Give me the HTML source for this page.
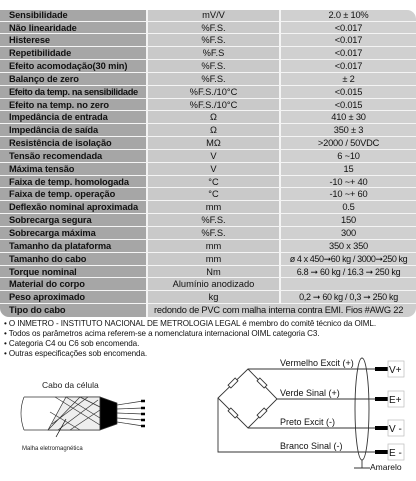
<!DOCTYPE html>
<html><head><meta charset="utf-8"><style>
body{margin:0;width:416px;height:481px;background:#fff;font-family:"Liberation Sans",Arial,sans-serif;overflow:hidden;position:relative}
.tbl{position:absolute;left:0;top:10px;width:416px;font-size:9.3px;color:#111}
.r{display:flex;height:12.85px;box-sizing:border-box;overflow:hidden}
.r>div{box-sizing:border-box;border-bottom:1px solid #f4f4f4;line-height:12px;white-space:nowrap;overflow:hidden;height:100%}
.a{width:148px;background:#a6a6a6;font-weight:bold;padding-left:9px;border-right:2px solid #f4f4f4;letter-spacing:-0.1px}
.b{width:133px;background:#c9c9c9;text-align:center;border-right:2px solid #f4f4f4}
.c{width:135px;background:#d0d0d0;text-align:center;letter-spacing:-0.2px}
.r.first{height:11.5px}
.r.first>div{line-height:11px}
.r.first .c{border-top-right-radius:9px}
.r.last>div{border-bottom:none}
.r.last .a{border-bottom-left-radius:9px}
.notes{position:absolute;left:4px;top:319px;font-size:8.1px;line-height:10px;color:#111;letter-spacing:-0.1px}
svg{position:absolute;left:0;top:0}
</style></head><body>
<div class="tbl">
<div class="r first"><div class="a">Sensibilidade</div><div class="b">mV/V</div><div class="c">2.0 ± 10%</div></div>
<div class="r"><div class="a">Não linearidade</div><div class="b">%F.S.</div><div class="c">&lt;0.017</div></div>
<div class="r"><div class="a">Histerese</div><div class="b">%F.S.</div><div class="c">&lt;0.017</div></div>
<div class="r"><div class="a">Repetibilidade</div><div class="b">%F.S</div><div class="c">&lt;0.017</div></div>
<div class="r"><div class="a">Efeito acomodação(30 min)</div><div class="b">%F.S.</div><div class="c">&lt;0.017</div></div>
<div class="r"><div class="a">Balanço de zero</div><div class="b">%F.S.</div><div class="c">± 2</div></div>
<div class="r"><div class="a" style="letter-spacing:-0.4px">Efeito da temp. na sensibilidade</div><div class="b">%F.S./10°C</div><div class="c">&lt;0.015</div></div>
<div class="r"><div class="a">Efeito na temp. no zero</div><div class="b">%F.S./10°C</div><div class="c">&lt;0.015</div></div>
<div class="r"><div class="a">Impedância de entrada</div><div class="b">Ω</div><div class="c">410 ± 30</div></div>
<div class="r"><div class="a">Impedância de saída</div><div class="b">Ω</div><div class="c">350 ± 3</div></div>
<div class="r"><div class="a">Resistência de isolação</div><div class="b">MΩ</div><div class="c">&gt;2000 / 50VDC</div></div>
<div class="r"><div class="a">Tensão recomendada</div><div class="b">V</div><div class="c">6 ~10</div></div>
<div class="r"><div class="a">Máxima tensão</div><div class="b">V</div><div class="c">15</div></div>
<div class="r"><div class="a">Faixa de temp. homologada</div><div class="b">°C</div><div class="c">-10 ~+ 40</div></div>
<div class="r"><div class="a">Faixa de temp. operação</div><div class="b">°C</div><div class="c">-10 ~+ 60</div></div>
<div class="r"><div class="a">Deflexão nominal aproximada</div><div class="b">mm</div><div class="c">0.5</div></div>
<div class="r"><div class="a">Sobrecarga segura</div><div class="b">%F.S.</div><div class="c">150</div></div>
<div class="r"><div class="a">Sobrecarga máxima</div><div class="b">%F.S.</div><div class="c">300</div></div>
<div class="r"><div class="a">Tamanho da plataforma</div><div class="b">mm</div><div class="c">350 x 350</div></div>
<div class="r"><div class="a">Tamanho do cabo</div><div class="b">mm</div><div class="c" style="font-size:9px;letter-spacing:-0.4px">ø 4 x 450➞60 kg / 3000➞250 kg</div></div>
<div class="r"><div class="a">Torque nominal</div><div class="b">Nm</div><div class="c" style="font-size:9px;letter-spacing:-0.3px">6.8 ➞ 60 kg / 16.3 ➞ 250 kg</div></div>
<div class="r"><div class="a">Material do corpo</div><div class="b">Alumínio anodizado</div><div class="c"></div></div>
<div class="r"><div class="a">Peso aproximado</div><div class="b">kg</div><div class="c" style="font-size:9px;letter-spacing:-0.3px">0,2 ➞ 60 kg / 0,3 ➞ 250 kg</div></div>
<div class="r last"><div class="a">Tipo do cabo</div><div class="b" style="width:268px;text-align:left;padding-left:6px;border-right:none;background:#cdcdcd;border-bottom-right-radius:9px;letter-spacing:-0.2px">redondo de PVC com malha interna contra EMI. Fios #AWG 22</div></div>
</div>
<div class="notes">
• O INMETRO - INSTITUTO NACIONAL DE METROLOGIA LEGAL é membro do comitê técnico da OIML.<br>
• Todos os parâmetros acima referem-se a nomenclatura internacional OIML categoria C3.<br>
• Categoria C4 ou C6 sob encomenda.<br>
• Outras especificações sob encomenda.
</div>
<svg width="416" height="481" font-family="Liberation Sans, Arial, sans-serif">
<g stroke="#333" fill="none" stroke-width="0.7">
<text x="42" y="388" font-size="8.5" fill="#222" stroke="none">Cabo da célula</text>
<path d="M24 397 L100 397 M24 430 L100 430"/>
<path d="M24 397 Q18 413 24 430"/>
<path d="M48 430 L66 397 L100 397 L100 430 Z" fill="#eee"/>
<path d="M52 424 L88 397 M58 430 L98 400 M70 430 L100 410 M48 430 L80 397" />
<path d="M55 397 L100 425 M66 397 L100 418 M50 412 L80 430 M80 397 L100 407" />
<path d="M100 397 L117 403 L117 424 L100 430 Z" fill="#000"/>
<path d="M117 405 L143 401 M117 409 L143 408 M117 413 L143 414 M117 418 L143 420 M117 422 L143 426"/>
<g stroke="#000" stroke-width="2.5"><path d="M141 401 L145 401 M141 408 L145 408 M141 414 L145 414 M141 420 L145 420 M141 426 L145 426"/></g>
<path d="M66 419 L56 437" stroke="#000"/>
<text x="22" y="450" font-size="6" fill="#222" stroke="none">Malha eletromagnética</text>
</g>
<g stroke="#333" fill="none" stroke-width="0.9">
<path d="M248 369 L218 398 L248 428 L277 399 Z"/>
<path d="M248 369 L385 369 M277 399 L385 399 M248 428 L385 428 M218 398 L218 452 L385 452"/>
<g fill="#fff"><rect x="228" y="381" width="10" height="4" transform="rotate(-45 233 383)"/><rect x="257" y="381" width="10" height="4" transform="rotate(45 262 383)"/><rect x="228" y="411" width="10" height="4" transform="rotate(45 233 413)"/><rect x="257" y="411" width="10" height="4" transform="rotate(-45 262 413)"/></g>
<ellipse cx="362" cy="409" rx="7" ry="51"/>
<path d="M362 460 L362 468 M354 468 L370 468"/>
<g stroke="#000" stroke-width="4"><path d="M375 369 L388 369 M375 399 L388 399 M375 428 L388 428 M375 452 L388 452"/></g>
<g stroke="#bbb" fill="#fff" stroke-width="0.7"><rect x="388" y="361" width="16" height="16"/><rect x="388" y="391" width="16" height="16"/><rect x="388" y="420" width="16" height="16"/><rect x="388" y="444" width="16" height="16"/></g>
<g fill="#111" stroke="none" font-size="9"><text x="280" y="366">Vermelho  Excit (+)</text><text x="280" y="396">Verde  Sinal (+)</text><text x="280" y="425">Preto  Excit (-)</text><text x="280" y="449">Branco  Sinal (-)</text>
<text x="389" y="373" font-size="10">V+</text><text x="389" y="403" font-size="10">E+</text><text x="389" y="432" font-size="10">V -</text><text x="389" y="456" font-size="10">E -</text>
<text x="370" y="470" font-size="8.5">Amarelo</text></g>
</g>
</svg>
</body></html>
